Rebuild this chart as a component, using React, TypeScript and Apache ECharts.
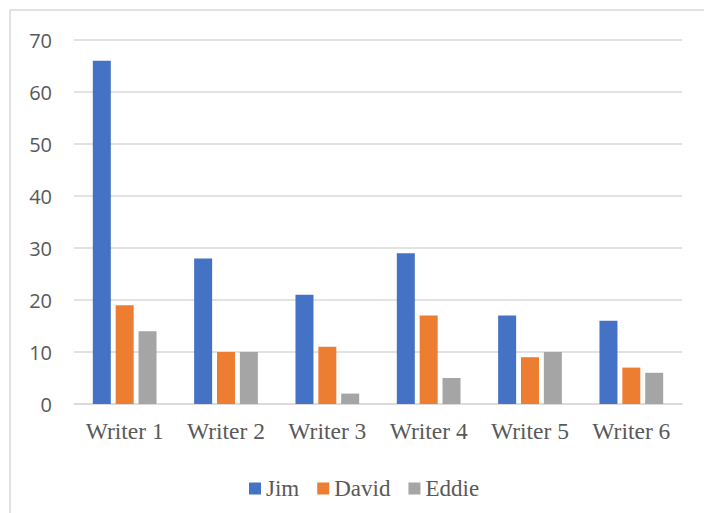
import React, { useEffect, useRef } from "react";
import * as echarts from "echarts";

const categories = ["Writer 1", "Writer 2", "Writer 3", "Writer 4", "Writer 5", "Writer 6"];
const seriesNames = ["Jim", "David", "Eddie"];
const jim = [66, 28, 21, 29, 17, 16];
const david = [19, 10, 11, 17, 9, 7];
const eddie = [14, 10, 2, 5, 10, 6];
const colors = ["#4472C4", "#ED7D31", "#A5A5A5"];

export default function App() {
  const ref = useRef<HTMLDivElement>(null);
  useEffect(() => {
    if (!ref.current) return;
    const chart = echarts.init(ref.current, null, { renderer: "svg" });
    const values = [jim, david, eddie];
    chart.setOption({
      animation: false,
      backgroundColor: "#ffffff",
      color: colors,
      graphic: [
        {
          type: "rect",
          shape: { x: 10, y: 10, width: 720, height: 520 },
          style: { fill: "none", stroke: "#d9d9d9", lineWidth: 1.5 },
          silent: true,
        },
      ],
      grid: { left: 74, right: 22, top: 40, bottom: 109, containLabel: false },
      legend: {
        data: seriesNames,
        left: 244,
        top: 472,
        itemWidth: 12,
        itemHeight: 12,
        itemGap: 18,
        icon: "rect",
        textStyle: { fontFamily: "Liberation Serif", fontSize: 23, color: "#595959", padding: [0, 0, 0, 0] },
      },
      xAxis: {
        type: "category",
        data: categories,
        axisLine: { lineStyle: { color: "#d9d9d9", width: 1.5 } },
        axisTick: { show: false },
        axisLabel: { interval: 0, hideOverlap: false, fontFamily: "Liberation Serif", fontSize: 23.5, color: "#595959", margin: 15 },
      },
      yAxis: {
        type: "value",
        min: 0,
        max: 70,
        interval: 10,
        axisLine: { show: false },
        axisTick: { show: false },
        splitLine: { lineStyle: { color: "#d9d9d9", width: 1.5 } },
        axisLabel: { fontFamily: "Open Sans", fontSize: 20, color: "#595959", margin: 22 },
      },
      series: seriesNames.map((name, i) => ({
        name,
        type: "bar",
        data: values[i],
        barWidth: 18,
        barGap: "27%",
        itemStyle: { color: colors[i] },
      })),
    });
    return () => chart.dispose();
  }, []);
  return <div ref={ref} style={{ position: "absolute", left: 0, top: 0, width: 704, height: 513 }} />;
}
